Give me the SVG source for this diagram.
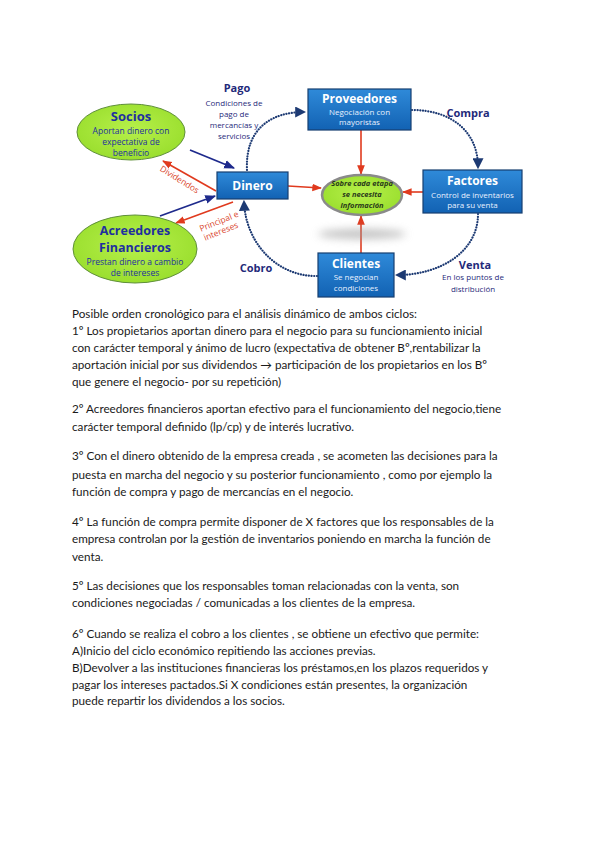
<svg xmlns="http://www.w3.org/2000/svg" width="600" height="848" viewBox="0 0 600 848">
<defs>
<linearGradient id="boxg" x1="0" y1="0" x2="0" y2="1">
<stop offset="0" stop-color="#2f8ad9"/><stop offset="1" stop-color="#1262b3"/>
</linearGradient>
<radialGradient id="greeng" cx="0.5" cy="0.45" r="0.6">
<stop offset="0" stop-color="#b6f04a"/><stop offset="1" stop-color="#98dd2c"/>
</radialGradient>
<filter id="blur" x="-50%" y="-200%" width="200%" height="500%"><feGaussianBlur stdDeviation="4"/></filter>
<marker id="dot" viewBox="0 0 10 10" refX="8" refY="5" markerWidth="5" markerHeight="5" orient="auto"><path d="M0,0 L10,5 L0,10 z" fill="#1d3a73"/></marker>
<marker id="red" viewBox="0 0 10 10" refX="9" refY="5" markerWidth="6" markerHeight="6" orient="auto"><path d="M0,1 L10,5 L0,9 z" fill="#e03a1e"/></marker>
<marker id="blue" viewBox="0 0 10 10" refX="9" refY="5" markerWidth="6" markerHeight="6" orient="auto"><path d="M0,1 L10,5 L0,9 z" fill="#1e2a8c"/></marker>
</defs>
<style>
.box{fill:url(#boxg);stroke:#163f70;stroke-width:1.2}
.ell{fill:url(#greeng);stroke:#5f8f3a;stroke-width:1}
.bt{font-family:"Open Sans","Liberation Sans",sans-serif;font-weight:bold;fill:#ffffff;text-anchor:middle}
.bs{font-family:"Open Sans","Liberation Sans",sans-serif;fill:#e8f1ff;text-anchor:middle;font-size:8px}
.gt{font-family:"Open Sans","Liberation Sans",sans-serif;font-weight:bold;fill:#1f2f9f;text-anchor:middle}
.gs{font-family:"Open Sans","Liberation Sans",sans-serif;fill:#1f2f9f;text-anchor:middle;font-size:8.5px}
.lt{font-family:"Open Sans","Liberation Sans",sans-serif;font-weight:bold;fill:#1f2a7a;text-anchor:middle;font-size:11px}
.ls{font-family:"Open Sans","Liberation Sans",sans-serif;fill:#1f2a7a;text-anchor:middle;font-size:8px}
.rl{font-family:"Open Sans","Liberation Sans",sans-serif;fill:#d9442a;text-anchor:middle;font-size:8.5px}
.dotted{fill:none;stroke:#1d3a73;stroke-width:2.2;stroke-dasharray:0.1 2.6;stroke-linecap:round}
.redl{fill:none;stroke:#e03a1e;stroke-width:1.6}
.bluel{fill:none;stroke:#1e2a8c;stroke-width:1.8}
.body{font-family:"Lato","Liberation Sans",sans-serif;font-size:11.7px;fill:#1a1a1a}
</style>
<rect width="600" height="848" fill="#ffffff"/>

<g id="connectors">
<path class="dotted" d="M247,170 C245,128 272,112 304,112" marker-end="url(#dot)"/>
<path class="dotted" d="M412,110 C452,110 478,132 478,167" marker-end="url(#dot)"/>
<path class="dotted" d="M478,214 C478,252 440,275 397,275" marker-end="url(#dot)"/>
<path class="dotted" d="M317,276 C280,277 246,246 244,202" marker-end="url(#dot)"/>
<path class="redl" d="M361,130 L361,174" marker-end="url(#red)"/>
<path class="redl" d="M288,186 L321,188" marker-end="url(#red)"/>
<path class="redl" d="M423,192 L403,192" marker-end="url(#red)"/>
<path class="redl" d="M361,253 L361,216" marker-end="url(#red)"/>
<path class="bluel" d="M190,150 L234,168" marker-end="url(#blue)"/>
<path class="bluel" d="M160,216 L215,196" marker-end="url(#blue)"/>
<path class="redl" d="M216,191 L163,161" marker-end="url(#red)"/>
<path class="redl" d="M233,202 L176,223" marker-end="url(#red)"/>
<text class="rl" transform="translate(178,182) rotate(32)">Dividendos</text>
<text class="rl" transform="translate(220,224) rotate(-22)">Principal e</text>
<text class="rl" transform="translate(222,234) rotate(-22)">intereses</text>
<text class="lt" x="237" y="92">Pago</text>
<text class="ls" x="234" y="106">Condiciones de</text>
<text class="ls" x="234" y="117">pago de</text>
<text class="ls" x="234" y="128">mercancías y</text>
<text class="ls" x="234" y="139">servicios</text>
<text class="lt" x="468" y="117">Compra</text>
<text class="lt" x="475" y="269">Venta</text>
<text class="ls" x="473" y="280">En los puntos de</text>
<text class="ls" x="473" y="292">distribución</text>
<text class="lt" x="256" y="272">Cobro</text>
</g>

<g id="socios">
<ellipse class="ell" cx="131" cy="132" rx="54" ry="28"/>
<text class="gt" x="131" y="121" font-size="13">Socios</text>
<text class="gs" x="131" y="134">Aportan dinero con</text>
<text class="gs" x="131" y="145">expectativa de</text>
<text class="gs" x="131" y="156">beneficio</text>
</g>

<g id="acreedores">
<ellipse class="ell" cx="135" cy="249" rx="62" ry="34"/>
<text class="gt" x="135" y="235" font-size="12.5">Acreedores</text>
<text class="gt" x="135" y="252" font-size="12.5">Financieros</text>
<text class="gs" x="135" y="265">Prestan dinero a cambio</text>
<text class="gs" x="135" y="276">de intereses</text>
</g>

<g id="dinero">
<rect class="box" x="217" y="172" width="71" height="27"/>
<text class="bt" x="252.5" y="190" font-size="12">Dinero</text>
</g>

<g id="proveedores">
<rect class="box" x="308" y="89" width="103" height="41"/>
<text class="bt" x="359.5" y="103" font-size="12">Proveedores</text>
<text class="bs" x="359.5" y="115">Negociación con</text>
<text class="bs" x="359.5" y="125">mayoristas</text>
</g>

<g id="factores">
<rect class="box" x="423" y="170" width="99" height="43"/>
<text class="bt" x="472.5" y="185" font-size="12">Factores</text>
<text class="bs" x="472.5" y="198">Control de inventarios</text>
<text class="bs" x="472.5" y="208">para su venta</text>
</g>

<g id="clientes">
<rect class="box" x="318" y="253" width="76" height="44"/>
<text class="bt" x="356" y="268" font-size="12">Clientes</text>
<text class="bs" x="356" y="280">Se negocian</text>
<text class="bs" x="356" y="291">condiciones</text>
</g>

<g id="informacion">
<ellipse cx="362" cy="234" rx="44" ry="5" fill="#9a9a9a" opacity="0.6" filter="url(#blur)"/>
<ellipse cx="362" cy="195" rx="40" ry="20" fill="url(#greeng)" stroke="#8a8a8a" stroke-width="2.5"/>
<text x="362" y="186" font-family="'Open Sans','Liberation Sans',sans-serif" font-size="7.5" font-style="italic" font-weight="bold" fill="#2a3a1a" text-anchor="middle">Sobre cada etapa</text>
<text x="362" y="197" font-family="'Open Sans','Liberation Sans',sans-serif" font-size="7.5" font-style="italic" font-weight="bold" fill="#2a3a1a" text-anchor="middle">se necesita</text>
<text x="362" y="208" font-family="'Open Sans','Liberation Sans',sans-serif" font-size="7.5" font-style="italic" font-weight="bold" fill="#2a3a1a" text-anchor="middle">información</text>
</g>

<g id="texto" class="body">
<text x="72" y="318">Posible orden cronológico para el análisis dinámico de ambos ciclos:</text>
<text x="72" y="335">1º Los propietarios aportan dinero para el negocio para su funcionamiento inicial</text>
<text x="72" y="352">con carácter temporal y ánimo de lucro (expectativa de obtener Bº,rentabilizar la</text>
<text x="72" y="369">aportación inicial por sus dividendos → participación de los propietarios en los Bº</text>
<text x="72" y="386">que genere el negocio- por su repetición)</text>
<text x="72" y="413">2º Acreedores financieros aportan efectivo para el funcionamiento del negocio,tiene</text>
<text x="72" y="431">carácter temporal definido (lp/cp) y de interés lucrativo.</text>
<text x="72" y="460">3º Con el dinero obtenido de la empresa creada , se acometen las decisiones para la</text>
<text x="72" y="479">puesta en marcha del negocio y su posterior funcionamiento , como por ejemplo la</text>
<text x="72" y="496">función de compra y pago de mercancías en el negocio.</text>
<text x="72" y="526">4º La función de compra permite disponer de X factores que los responsables de la</text>
<text x="72" y="543">empresa  controlan por la gestión de inventarios poniendo en marcha la función de</text>
<text x="72" y="561">venta.</text>
<text x="72" y="590">5º Las decisiones que los responsables toman relacionadas con la venta, son</text>
<text x="72" y="607">condiciones negociadas / comunicadas a los clientes de la empresa.</text>
<text x="72" y="638">6º Cuando se realiza el cobro a los clientes , se obtiene un efectivo que permite:</text>
<text x="72" y="655">A)Inicio del ciclo económico repitiendo las acciones previas.</text>
<text x="72" y="672">B)Devolver a las instituciones financieras los préstamos,en los plazos requeridos y</text>
<text x="72" y="689">pagar los intereses pactados.Si X condiciones están presentes, la organización</text>
<text x="72" y="705">puede repartir los dividendos a los socios.</text>
</g>
</svg>
